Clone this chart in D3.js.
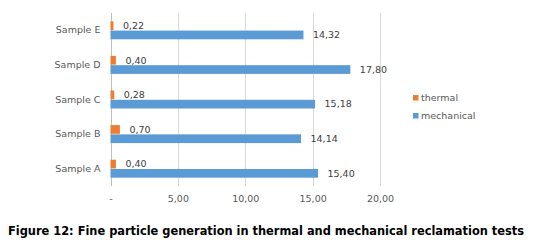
<!DOCTYPE html>
<html>
<head>
<meta charset="utf-8">
<script src="https://cdn.jsdelivr.net/npm/d3@7"></script>
<style>
body { margin: 0; background: #fff; }
text { font-family: "DejaVu Sans", sans-serif; }
</style>
</head>
<body>
<div class="container"></div>
<script>
var categories = ["Sample A", "Sample B", "Sample C", "Sample D", "Sample E"];
var thermal = [0.40, 0.70, 0.28, 0.40, 0.22];
var mechanical = [15.40, 14.14, 15.18, 17.80, 14.32];
var seriesNames = ["thermal", "mechanical"];
var xTicks = [0, 5, 10, 15, 20];
var caption = "Figure 12: Fine particle generation in thermal and mechanical reclamation tests";

var WIDTH = 542, HEIGHT = 249;
var colors = {thermal: "#ED7D31", mechanical: "#5B9BD5"};
var comma = function(v) { return d3.format(".2f")(v).replace(".", ","); };

var svg = d3.select('.container').append('svg')
	.attr('width', WIDTH)
	.attr('height', HEIGHT);

var xScale = d3.scaleLinear().domain([0, 20]).range([110.5, 380]);
var yScale = d3.scaleBand()
	.domain(categories.slice().reverse())
	.range([13, 186])
	.paddingInner(0.48)
	.paddingOuter(0.24);
var subScale = d3.scaleBand()
	.domain(seriesNames)
	.range([0, yScale.bandwidth()])
	.paddingInner(0.06);

// gridlines
svg.append('g').selectAll('line').data(xTicks.slice(1))
	.enter().append('line')
	.attr('x1', function(d) { return Math.round(xScale(d)) + 0.5; })
	.attr('x2', function(d) { return Math.round(xScale(d)) + 0.5; })
	.attr('y1', 13).attr('y2', 186)
	.attr('stroke', '#D9D9D9');

svg.append('line')
	.attr('x1', Math.round(xScale(0)) + 0.5).attr('x2', Math.round(xScale(0)) + 0.5)
	.attr('y1', 13).attr('y2', 186)
	.attr('stroke', '#BFBFBF');

// x tick labels
var xAxis = d3.axisBottom(xScale).tickValues(xTicks).tickSize(0).tickPadding(9)
	.tickFormat(function(d) { return d === 0 ? "-" : comma(d); });
var xg = svg.append('g').attr('transform', 'translate(0,186)').call(xAxis);
xg.select('.domain').remove();
xg.selectAll('text').attr('fill', '#595959').style('font-size', '9.5px')
	.style('font-family', '"DejaVu Sans", sans-serif');

// y category labels
var yAxis = d3.axisLeft(yScale).tickSize(0).tickPadding(10);
var yg = svg.append('g').attr('transform', 'translate(110.5,0)').call(yAxis);
yg.select('.domain').remove();
yg.selectAll('text').attr('fill', '#595959').style('font-size', '9.5px')
	.style('font-family', '"DejaVu Sans", sans-serif');

// bars
var rows = categories.map(function(c, i) {
	return {cat: c, thermal: thermal[i], mechanical: mechanical[i]};
});
var groups = svg.selectAll('.cat').data(rows).enter().append('g')
	.attr('transform', function(d) { return 'translate(0,' + yScale(d.cat) + ')'; });

seriesNames.forEach(function(s) {
	groups.append('rect')
		.attr('x', xScale(0))
		.attr('y', subScale(s))
		.attr('width', function(d) { return xScale(d[s]) - xScale(0); })
		.attr('height', subScale.bandwidth())
		.attr('fill', colors[s]);
	groups.append('text')
		.attr('x', function(d) { return xScale(d[s]) + 9.5; })
		.attr('y', subScale(s) + subScale.bandwidth() / 2)
		.attr('dy', '0.35em')
		.attr('fill', '#404040')
		.style('font-size', '9.5px')
		.text(function(d) { return comma(d[s]); });
});

// legend
var legend = svg.append('g').attr('transform', 'translate(413,98)');
seriesNames.forEach(function(s, i) {
	legend.append('rect').attr('x', 0).attr('y', i * 18 - 3).attr('width', 5.5).attr('height', 5.5)
		.attr('fill', colors[s]);
	legend.append('text').attr('x', 8).attr('y', i * 18).attr('dy', '0.35em')
		.attr('fill', '#595959').style('font-size', '9.5px').text(s);
});

// caption
svg.append('text')
	.attr('x', 8).attr('y', 234.5)
	.attr('textLength', 516).attr('lengthAdjust', 'spacingAndGlyphs')
	.style('font-family', '"DejaVu Sans Condensed", "DejaVu Sans", sans-serif')
	.style('font-size', '11.5px').style('font-weight', 'bold')
	.attr('fill', '#000')
	.text(caption);
</script>
</body>
</html>
